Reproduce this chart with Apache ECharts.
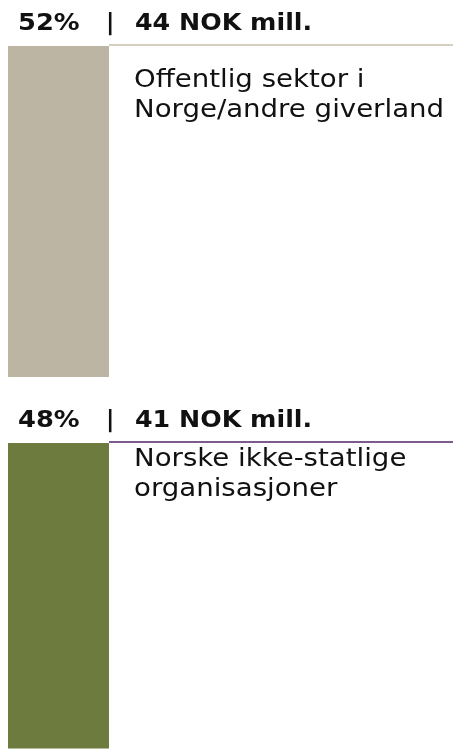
<!DOCTYPE html>
<html>
<head>
<meta charset="utf-8">
<script src="https://cdn.jsdelivr.net/npm/echarts@6/dist/echarts.min.js"></script>
<style>
  html, body { margin: 0; padding: 0; background: #fff; }
  #chart { width: 453px; height: 749px; }
</style>
</head>
<body>
<div id="chart"></div>
<script>
// andeler og beløp
var shares = [52, 48];
var amounts = [44, 41];
var groups = [
    ['Offentlig sektor i', 'Norge/andre giverland'],
    ['Norske ikke-statlige', 'organisasjoner']
];

var barColors = ['#bdb5a3', '#6e7b3f'];
var ruleColors = ['#d6cebf', '#7c5a8e'];
var FONT = '"DejaVu Sans", Verdana, sans-serif';

var pxPerPct = 331 / 52;
var barLeft = 8, barWidth = 101;
var labelOffset = [35, 17];

var chart = echarts.init(document.getElementById('chart'));

function txt(str, x, y, font, sx) {
    return {
        type: 'text', x: x, y: y, scaleX: sx, silent: true,
        style: { text: str, font: font, fill: '#111', verticalAlign: 'middle' }
    };
}

var grids = [], xAxes = [], yAxes = [], series = [], graphics = [];
var panelTop = 46;
shares.forEach(function (pct, i) {
    var h = pct * pxPerPct;
    grids.push({ left: barLeft, top: panelTop, width: barWidth, height: h });
    xAxes.push({ type: 'category', gridIndex: i, data: [''], show: false });
    yAxes.push({ type: 'value', gridIndex: i, min: 0, max: pct, inverse: true, show: false });
    series.push({
        type: 'bar', xAxisIndex: i, yAxisIndex: i, data: [pct],
        barWidth: '100%', itemStyle: { color: barColors[i] }, silent: true
    });

    // overskrift
    var headY = panelTop - 22;
    var hf = 'bold 23px ' + FONT;
    graphics.push(txt(pct + '%', 18, headY, hf, 1.12));
    graphics.push(txt('|', 106, headY, hf, 1));
    graphics.push(txt(amounts[i] + ' NOK mill.', 135, headY, hf, 1.1));
    // linje
    graphics.push({
        type: 'line', silent: true,
        shape: { x1: barLeft + barWidth, y1: panelTop - 1, x2: 453, y2: panelTop - 1 },
        style: { stroke: ruleColors[i], lineWidth: 2 }
    });
    // etikett
    groups[i].forEach(function (line, j) {
        graphics.push(txt(line, 134, panelTop + labelOffset[i] + j * 29.5, '24px ' + FONT, 1.15));
    });

    panelTop += h + 66;
});

chart.setOption({
    animation: false,
    grid: grids,
    xAxis: xAxes,
    yAxis: yAxes,
    series: series,
    graphic: graphics
});
</script>
</body>
</html>
